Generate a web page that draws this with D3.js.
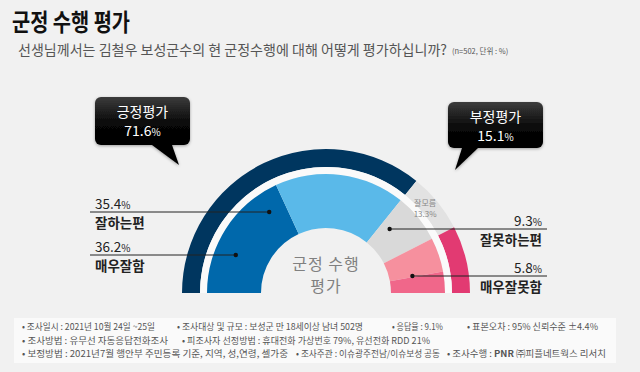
<!DOCTYPE html>
<html>
<head>
<meta charset="utf-8">
<script src="https://cdn.jsdelivr.net/npm/d3@7"></script>
<style>
  body { margin: 0; background: #f1f1f1; }
  svg { display: block; font-family: "Noto Sans CJK KR", "Noto Sans", sans-serif; }
</style>
</head>
<body>
<script>
'use strict';

// survey results (%)
const innerLabels = ['매우잘함', '잘하는편', '잘모름', '잘못하는편', '매우잘못함']
const innerValues = [36.2, 35.4, 13.3, 9.3, 5.8]
const outerLabels = ['긍정평가', '잘모름', '부정평가']
const outerValues = [71.6, 13.3, 15.1]

const footLines = [
  ['• 조사일시 : 2021년 10월 24일 ~25일', '• 조사대상 및 규모 : 보성군 만 18세이상  남녀  502명', '• 응답율 :  9.1%', '• 표본오차 : 95% 신뢰수준 ±4.4%'],
  ['• 조사방법 : 유무선 자동응답전화조사', '• 피조사자 선정방법 : 휴대전화 가상번호 79%, 유선전화 RDD  21%'],
  ['• 보정방법 : 2021년7월  행안부 주민등록 기준,  지역,  성,연령,  셀가중', '• 조사주관 : 이슈광주전남/이슈보성 공동', '• 조사수행 : PNR ㈜피플네트웍스 리서치']
]

const m = { width: 640, height: 372 }
const cx = 326, cy = 293

const innerColors = ['#0068ab', '#5ab9e9', '#d9d9d9', '#f6909e', '#f0678a']
const outerColors = ['#00365f', '#e2e2e2', '#e23a72']

const svg = d3.select('body').append('svg')
  .attr('width', m.width)
  .attr('height', m.height)

svg.append('rect').attr('width', m.width).attr('height', m.height).attr('fill', '#f1f1f1')

// title
svg.append('text')
  .attr('x', 12).attr('y', 31)
  .attr('textLength', 118).attr('lengthAdjust', 'spacingAndGlyphs')
  .style('font-size', '24px').style('font-weight', 'bold').attr('fill', '#111')
  .text('군정 수행 평가')

svg.append('text')
  .attr('x', 18).attr('y', 55)
  .attr('textLength', 429).attr('lengthAdjust', 'spacingAndGlyphs')
  .style('font-size', '14px').attr('fill', '#555')
  .text('선생님께서는 김철우 보성군수의 현 군정수행에 대해 어떻게 평가하십니까?')
svg.append('text')
  .attr('x', 452).attr('y', 54)
  .style('font-size', '7.5px').attr('fill', '#555')
  .text('(n=502, 단위 : %)')

// half donut
const pie = d3.pie().sort(null)
  .startAngle(-Math.PI / 2).endAngle(Math.PI / 2)

const g = svg.append('g').attr('transform', `translate(${cx},${cy})`)

const outerArc = d3.arc().innerRadius(126).outerRadius(144)
const gapArc = d3.arc().innerRadius(119).outerRadius(126)
const innerArc = d3.arc().innerRadius(65).outerRadius(119)

g.selectAll('path.outer')
  .data(pie(outerValues))
  .enter().append('path')
  .attr('class', 'outer')
  .attr('d', outerArc)
  .attr('fill', (d, i) => outerColors[i])

g.append('path')
  .attr('d', gapArc({ startAngle: -Math.PI / 2, endAngle: Math.PI / 2 }))
  .attr('fill', '#fafafa')

g.selectAll('path.inner')
  .data(pie(innerValues))
  .enter().append('path')
  .attr('class', 'inner')
  .attr('d', innerArc)
  .attr('fill', (d, i) => innerColors[i])

// 잘모름 label in the outer gray band
const dk = pie(outerValues)[1]
const dkAngle = (dk.startAngle + dk.endAngle) / 2
const dkR = 133
const dkX = dkR * Math.sin(dkAngle) - 4
const dkY = -dkR * Math.cos(dkAngle)
g.append('text')
  .attr('x', dkX).attr('y', dkY - 3)
  .attr('text-anchor', 'middle')
  .style('font-size', '8px').attr('fill', '#888')
  .text(outerLabels[1])
g.append('text')
  .attr('x', dkX).attr('y', dkY + 8)
  .attr('text-anchor', 'middle')
  .style('font-size', '8px').attr('fill', '#888')
  .text(outerValues[1] + '%')

// center text
g.append('text').attr('x', 0).attr('y', -23).attr('text-anchor', 'middle')
  .style('font-size', '16px').style('letter-spacing', '1px').attr('fill', '#808080').text('군정 수행')
g.append('text').attr('x', 0).attr('y', -1).attr('text-anchor', 'middle')
  .style('font-size', '16px').style('letter-spacing', '1px').attr('fill', '#808080').text('평가')

// leader lines with dots (angle in degrees from top, radius)
function polar(deg, r) {
  let a = deg * Math.PI / 180
  return [cx + r * Math.sin(a), cy - r * Math.cos(a)]
}

const leaders = [
  { i: 1, deg: -35, r: 99, side: 'left', ly: 212 },
  { i: 0, deg: -67, r: 98, side: 'left', ly: 255 },
  { i: 3, deg: 45, r: 90, side: 'right', ly: 229 },
  { i: 4, deg: 79, r: 88, side: 'right', ly: 276 }
]

leaders.forEach((l) => {
  let p = polar(l.deg, l.r)
  let x0 = l.side === 'left' ? 90 : 547
  svg.append('line')
    .attr('x1', x0).attr('y1', l.ly).attr('x2', p[0]).attr('y2', l.ly)
    .attr('stroke', '#222').attr('stroke-width', 1)
  svg.append('circle').attr('cx', p[0]).attr('cy', l.ly).attr('r', 2.2).attr('fill', '#111')

  let tx = l.side === 'left' ? 95 : 542
  let anchor = l.side === 'left' ? 'start' : 'end'
  let v = svg.append('text').attr('x', tx).attr('y', l.ly - 3)
    .attr('text-anchor', anchor).style('font-size', '13.5px').attr('fill', '#222')
  v.append('tspan').text(innerValues[l.i])
  v.append('tspan').style('font-size', '10px').text('%')
  svg.append('text').attr('x', tx).attr('y', l.ly + 16)
    .attr('text-anchor', anchor).style('font-size', '13.5px').style('font-weight', 'bold').attr('fill', '#222')
    .text(innerLabels[l.i])
})

// callout bubbles
const defs = svg.append('defs')
const grad = defs.append('linearGradient').attr('id', 'bub').attr('x1', 0).attr('y1', 0).attr('x2', 0).attr('y2', 1)
grad.append('stop').attr('offset', '0%').attr('stop-color', '#3c3c3c')
grad.append('stop').attr('offset', '55%').attr('stop-color', '#080808')
grad.append('stop').attr('offset', '100%').attr('stop-color', '#000')
const shadow = defs.append('filter').attr('id', 'sh').attr('x', -0.2).attr('y', -0.2).attr('width', 1.4).attr('height', 1.5)
shadow.append('feDropShadow').attr('dx', 0).attr('dy', 1).attr('stdDeviation', 1.5).attr('flood-opacity', 0.35)

const bubbles = [
  { i: 0, x: 95, y: 97, w: 95, h: 48, tail: [[152, 145], [172, 145], [179, 165]] },
  { i: 2, x: 448, y: 102, w: 95, h: 46, tail: [[462, 148], [478, 148], [455, 170]] }
]

bubbles.forEach((b) => {
  let bg = svg.append('g').attr('filter', 'url(#sh)')
  bg.append('path')
    .attr('d', d3.line()(b.tail) + 'Z')
    .attr('fill', '#000')
  bg.append('rect')
    .attr('x', b.x).attr('y', b.y).attr('width', b.w).attr('height', b.h)
    .attr('rx', 6).attr('fill', 'url(#bub)')
  svg.append('text').attr('x', b.x + b.w / 2).attr('y', b.y + 20)
    .attr('text-anchor', 'middle').style('font-size', '14px').attr('fill', '#fff')
    .text(outerLabels[b.i])
  let t = svg.append('text').attr('x', b.x + b.w / 2).attr('y', b.y + 39)
    .attr('text-anchor', 'middle').style('font-size', '14px').attr('fill', '#fff')
  t.append('tspan').text(outerValues[b.i])
  t.append('tspan').style('font-size', '10px').text('%')
})

// footnote box
svg.append('rect')
  .attr('x', 14).attr('y', 318).attr('width', 602).attr('height', 45)
  .attr('fill', '#fafafa')

// start and end x of every footnote item
const footPos = [
  [[22, 155], [177, 363], [392, 443], [467, 598]],
  [[22, 168], [182, 430]],
  [[22, 288], [296, 440], [447, 606]]
]
footLines.forEach((line, r) => {
  line.forEach((txt, c) => {
    let pos = footPos[r][c]
    let t = svg.append('text')
      .attr('x', pos[0]).attr('y', 330 + r * 13.5)
      .attr('textLength', pos[1] - pos[0]).attr('lengthAdjust', 'spacingAndGlyphs')
      .style('font-size', '9px').attr('fill', '#555')
    if (txt.includes('PNR')) {
      t.append('tspan').text('• 조사수행 : ')
      t.append('tspan').style('font-weight', 'bold').text('PNR')
      t.append('tspan').text(' ㈜피플네트웍스 리서치')
    } else {
      t.text(txt)
    }
  })
})
</script>
</body>
</html>
